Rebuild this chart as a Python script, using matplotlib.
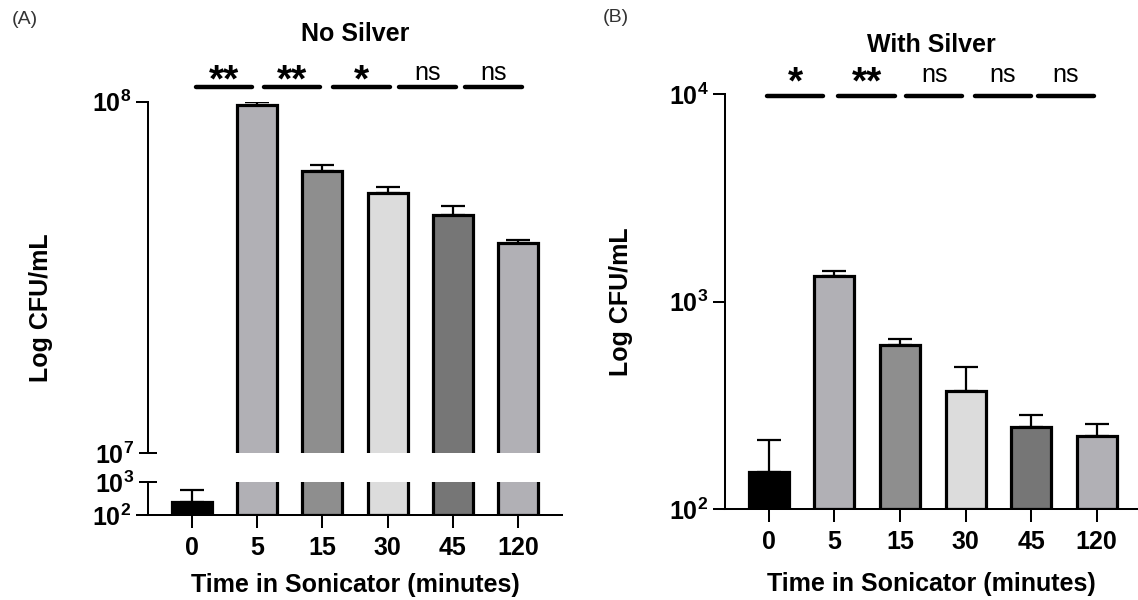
import numpy as np
import matplotlib
matplotlib.use("Agg")
import matplotlib.pyplot as plt
from matplotlib.transforms import blended_transform_factory

plt.rcParams['font.family'] = 'Liberation Sans'
plt.rcParams['mathtext.fontset'] = 'custom'
plt.rcParams['mathtext.rm'] = 'Liberation Sans'
plt.rcParams['mathtext.bf'] = 'Liberation Sans:bold'

# data
times = ['0', '5', '15', '30', '45', '120']
bar_colors = ['#000000', '#b1b0b5', '#8e8e8e', '#dcdcdc', '#767676', '#b1b0b5']

no_silver_mean = [250, 9.8e7, 6.37e7, 5.51e7, 4.76e7, 3.96e7]
no_silver_sem = [325, 2.0e6, 2.2e6, 2.0e6, 3.0e6, 7.0e5]

with_silver_mean = [151, 1325, 615, 369, 250, 226]
with_silver_sem = [64, 75, 45, 114, 34, 31]

sig_no_silver = ['**', '**', '*', 'ns', 'ns']
sig_with_silver = ['*', '**', 'ns', 'ns', 'ns']

baseline = 1e2

W, H = 1138, 600
fig = plt.figure(figsize=(W / 100, H / 100), dpi=100)

def px(left, top, right, bottom):
    return [left / W, 1 - bottom / H, (right - left) / W, (bottom - top) / H]

ax_top = fig.add_axes(px(148, 101.7, 562, 453))
ax_bot = fig.add_axes(px(148, 482, 562, 515))
ax_b = fig.add_axes(px(725, 94.4, 1138, 509))

x = np.arange(len(times))
LW = 1.45

def draw_bars(ax, mean, sem):
    ax.set_yscale('log')
    heights = np.array(mean) - baseline
    ax.bar(x, heights, width=0.61, bottom=baseline, color=bar_colors,
           edgecolor='black', linewidth=2.3, zorder=2)
    ax.errorbar(x, mean, yerr=[np.zeros(len(sem)), sem], fmt='none',
                ecolor='black', elinewidth=1.6, capsize=8.5, capthick=1.6, zorder=3)
    ax.set_xlim(-0.67, 5.67)
    for s in ['top', 'right']:
        ax.spines[s].set_visible(False)
    for s in ['left', 'bottom']:
        ax.spines[s].set_linewidth(LW)
    ax.tick_params(axis='both', which='both', width=LW, labelsize=18)

def label(v):
    return r'$\mathbf{10^{%d}}$' % int(round(np.log10(v)))

def sig_marks(ax, labels, centers, line_y, star_y, ns_y):
    tr = blended_transform_factory(ax.transData, ax.transAxes)
    for xc, lab in zip(centers, labels):
        ax.plot([xc - 0.43, xc + 0.43], [line_y, line_y], transform=tr,
                color='black', lw=3.2, solid_capstyle='round', clip_on=False)
        if lab == 'ns':
            ax.text(xc, ns_y, lab, transform=tr, ha='center', va='baseline',
                    fontsize=18)
        else:
            ax.text(xc, star_y, lab, transform=tr, ha='center', va='baseline',
                    fontsize=28, fontweight='bold')

# (A) No Silver - broken axis
draw_bars(ax_top, no_silver_mean, no_silver_sem)
draw_bars(ax_bot, no_silver_mean, no_silver_sem)

ax_top.set_ylim(1e7, 1e8)
ax_top.spines['bottom'].set_visible(False)
ax_top.set_xticks([])
ax_top.set_yticks([1e8], labels=[label(1e8)])
ax_top.set_yticks([1e7], labels=[label(1e7)], minor=True)
ax_top.tick_params(axis='y', which='major', direction='out', length=8.6, pad=3.5)
ax_top.tick_params(axis='y', which='minor', direction='inout', length=13, pad=3.5)

ax_bot.set_ylim(1e2, 1e3)
ax_bot.set_yticks([1e2], labels=[label(1e2)])
ax_bot.set_yticks([1e3], labels=[label(1e3)], minor=True)
ax_bot.tick_params(axis='y', which='major', direction='out', length=8.6, pad=3.5)
ax_bot.tick_params(axis='y', which='minor', direction='inout', length=13, pad=3.5)
ax_bot.set_xticks(x, labels=times, fontweight='bold')
ax_bot.tick_params(axis='x', direction='out', length=9.1, pad=6)
ax_bot.set_xlabel('Time in Sonicator (minutes)', fontsize=18, fontweight='bold')
ax_bot.xaxis.set_label_coords(0.5, -1.75)

ax_top.set_ylabel('Log CFU/mL', fontsize=18, fontweight='bold')
ax_top.yaxis.set_label_coords(-0.23, 0.413)

sig_marks(ax_top, sig_no_silver, [0.50, 1.53, 2.60, 3.61, 4.62],
          1.0418, 1.028, 1.062)
ax_top.text(0.5, 1.193, 'No Silver', transform=ax_top.transAxes, ha='center',
            va='center', fontsize=18, fontweight='bold')
fig.text(12 / W, 1 - 20 / H, '(A)', fontsize=14, va='center', color='#333333')

# (B) With Silver
draw_bars(ax_b, with_silver_mean, with_silver_sem)
ax_b.set_xlim(-0.67, 5.63)
ax_b.set_ylim(1e2, 1e4)
ax_b.set_yticks([1e2, 1e3, 1e4], labels=[label(v) for v in [1e2, 1e3, 1e4]])
ax_b.yaxis.set_minor_locator(matplotlib.ticker.NullLocator())
ax_b.tick_params(axis='y', direction='out', length=8.6, pad=3.5)
ax_b.set_xticks(x, labels=times, fontweight='bold')
ax_b.tick_params(axis='x', direction='out', length=9.1, pad=6)
ax_b.set_xlabel('Time in Sonicator (minutes)', fontsize=18, fontweight='bold')
ax_b.xaxis.set_label_coords(0.5, -0.152)
ax_b.set_ylabel('Log CFU/mL', fontsize=18, fontweight='bold')
ax_b.yaxis.set_label_coords(-0.223, 0.5)

sig_marks(ax_b, sig_with_silver, [0.40, 1.49, 2.52, 3.57, 4.53],
          0.995, 1.003, 1.029)
ax_b.text(0.5, 1.119, 'With Silver', transform=ax_b.transAxes, ha='center',
          va='center', fontsize=18, fontweight='bold')
fig.text(603 / W, 1 - 18 / H, '(B)', fontsize=14, va='center', color='#333333')

fig.savefig('out.png', dpi=100, facecolor='white')
